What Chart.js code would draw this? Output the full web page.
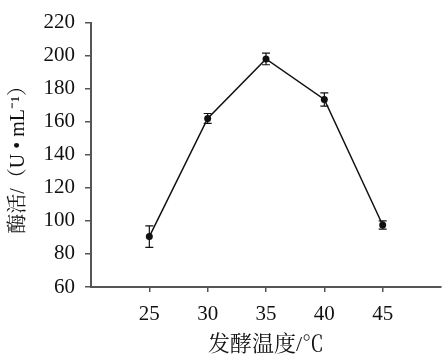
<!DOCTYPE html>
<html><head><meta charset="utf-8">
<script src="https://cdn.jsdelivr.net/npm/chart.js@4"></script>
<style>html,body{margin:0;padding:0;background:#fff}#wrap{width:445px;height:363px}</style>
</head><body><div id="wrap"><canvas id="c" width="445" height="363"></canvas></div>
<script>
const temperatures = [25, 30, 35, 40, 45];
const activity = [90.5, 162, 198, 173.5, 97.5];
const errors = [6.5, 3, 3.5, 4, 2.5];
const yTicks = [60, 80, 100, 120, 140, 160, 180, 200, 220];
const xTicks = [25, 30, 35, 40, 45];
const xTitle = '发酵温度/℃';
const yTitle = '酶活/（U • mL⁻¹）';

const errorBars = {
  id: 'errorBars',
  afterDatasetsDraw(chart) {
    const {ctx, scales: {x, y}} = chart;
    ctx.save();
    ctx.strokeStyle = '#111';
    ctx.lineWidth = 1.2;
    temperatures.forEach((t, i) => {
      const px = x.getPixelForValue(t);
      const top = y.getPixelForValue(activity[i] + errors[i]);
      const bot = y.getPixelForValue(activity[i] - errors[i]);
      ctx.beginPath();
      ctx.moveTo(px, top); ctx.lineTo(px, bot);
      ctx.moveTo(px - 4, top); ctx.lineTo(px + 4, top);
      ctx.moveTo(px - 4, bot); ctx.lineTo(px + 4, bot);
      ctx.stroke();
    });
    ctx.restore();
  }
};

const serif = "'Liberation Serif', 'Times New Roman', 'Noto Serif CJK SC', serif";
new Chart(document.getElementById('c'), {
  type: 'line',
  data: {
    datasets: [{
      data: temperatures.map((t, i) => ({x: t, y: activity[i]})),
      borderColor: '#111',
      borderWidth: 1.5,
      backgroundColor: '#111',
      pointRadius: 3.5,
      pointBackgroundColor: '#111',
      pointBorderWidth: 0,
      tension: 0
    }]
  },
  options: {
    responsive: false,
    animation: false,
    events: [],
    layout: {padding: {top: 13, right: 0, left: 0, bottom: 0}},
    plugins: {legend: {display: false}, tooltip: {enabled: false}},
    scales: {
      x: {
        type: 'linear', min: 20, max: 50,
        afterBuildTicks(s) { s.ticks = xTicks.map(v => ({value: v})); },
        afterFit(s) { s.height = 76; },
        grid: {display: true, drawOnChartArea: false, drawTicks: true, tickLength: 5, color: '#555', lineWidth: 1.5},
        border: {display: true, color: '#555', width: 2},
        ticks: {color: '#111', font: {family: serif, size: 21}, padding: 10, maxRotation: 0},
        title: {display: true, text: xTitle, color: '#111', font: {family: serif, size: 22}, padding: {top: 0, bottom: 5}}
      },
      y: {
        type: 'linear', min: 60, max: 220,
        afterBuildTicks(s) { s.ticks = yTicks.map(v => ({value: v})); },
        afterFit(s) { s.width = 91; },
        grid: {display: true, drawOnChartArea: false, drawTicks: true, tickLength: 6, color: '#555', lineWidth: 1.5},
        border: {display: true, color: '#555', width: 2},
        ticks: {color: '#111', font: {family: serif, size: 21}, padding: 10},
        title: {display: true, text: yTitle, color: '#111', font: {family: serif, size: 20}, padding: {top: 7, bottom: 0}}
      }
    }
  },
  plugins: [errorBars]
});
</script></body></html>
